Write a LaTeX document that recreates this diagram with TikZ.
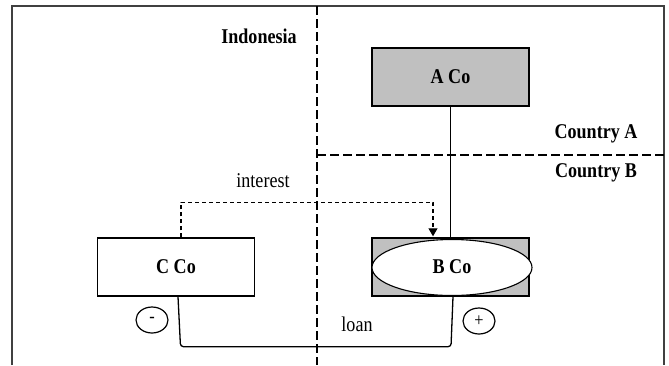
\documentclass[tikz,border=0pt]{standalone}
\usepackage{fontspec}
\setmainfont{Liberation Serif}[FakeStretch=0.86]
\usetikzlibrary{calc,arrows.meta,shapes.geometric}
\definecolor{boxgray}{HTML}{C0C0C0}
\definecolor{framegray}{HTML}{404040}
\begin{document}
\begin{tikzpicture}[x=1pt,y=-1pt,
  company/.style={draw=black,line width=1.4pt,minimum width=157pt,minimum height=58pt,inner sep=0pt,
    font=\fontsize{21}{24}\selectfont\bfseries},
  label/.style={inner sep=0pt,font=\fontsize{21}{24}\selectfont\bfseries},
  plain/.style={inner sep=0pt,font=\fontsize{21}{24}\selectfont},
  sign/.style={draw,ellipse,line width=1.2pt,minimum width=32pt,minimum height=26pt,inner sep=0pt,
    font=\fontsize{19}{20}\selectfont},
  divider/.style={line width=1.1pt,dash pattern=on 9pt off 4pt},
  flowdash/.style={line width=1.1pt,dash pattern=on 4pt off 3pt},
  link/.style={line width=1.3pt}]
\useasboundingbox (0,0) rectangle (669,365);

% outer frame, open at the bottom
\draw[framegray,line width=1.8pt] (12,365) -- (12,6) -- (664,6) -- (664,365);

% border lines between the jurisdictions
\coordinate (vtop) at (317,6);
\coordinate (vbot) at (317,365);
\coordinate (hleft) at (317,155);
\coordinate (hright) at (664,155);
\draw[divider] (vtop) -- (vbot);
\draw[divider] (hleft) -- (hright);

% region labels
\node[label] (indo) at (259,36) {Indonesia};
\node[label] (ca) at (596,134) {Country A};
\node[label] (cb) at (596,173) {Country B};

% companies
\node[company,fill=boxgray] (aco) at (450.5,77) {A Co};
\node[company,fill=boxgray] (bbox) at (450.5,267) {};
\node[draw,ellipse,line width=1.1pt,fill=white,minimum width=160pt,minimum height=56pt,inner sep=0pt,
  font=\fontsize{21}{24}\selectfont\bfseries] (bco) at (452,267.5) {\raisebox{2pt}{B Co}};
\node[company,fill=white] (cco) at (176,267) {C Co};

% ownership line
\draw[link] (aco.south) -- (bbox.north);

% interest flow
\draw[flowdash,-{Triangle[length=8pt,width=9pt]}]
  ($(cco.north)+(5,0)$) -- ($(cco.north)+(5,-35)$) -- ($(bbox.north)+(-17.5,-35)$) -- ($(bbox.north)+(-17.5,-1)$);
\node[plain] (interest) at (263,181) {interest};

% loan
\draw[link,rounded corners=3pt]
  ($(cco.south)+(2,0)$) -- ($(cco.south)+(4.5,50)$) -- ($(bbox.south)+(0.5,50)$) -- ($(bbox.south)+(2.5,0)$);
\node[plain] (loan) at (357,324) {loan};

% signs
\node[sign] (minus) at (152,320) {\raisebox{-2pt}{-}};
\node[sign] (plus) at (479,321) {\raisebox{-1pt}{+}};
\end{tikzpicture}
\end{document}
